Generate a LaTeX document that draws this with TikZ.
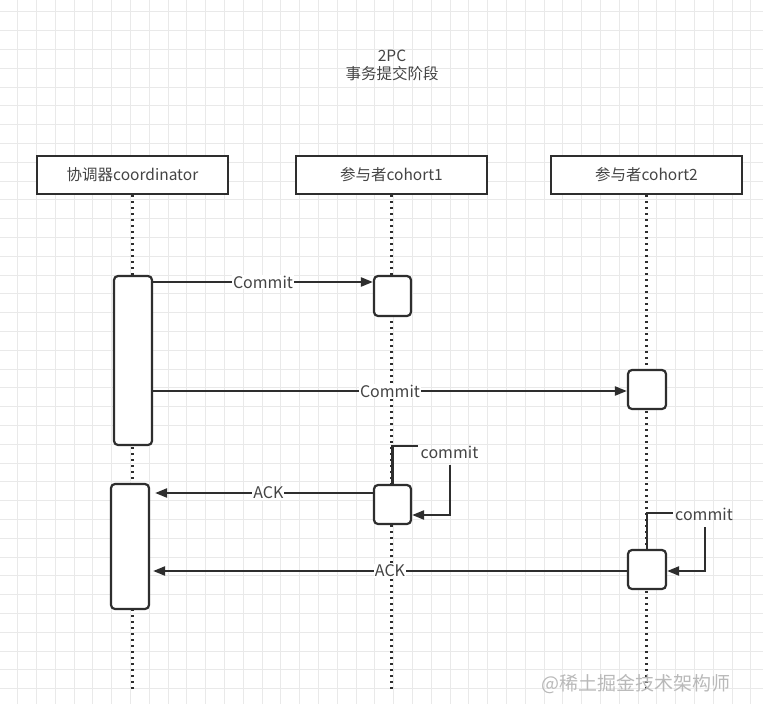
\documentclass[tikz,border=0pt]{standalone}
\usepackage{fontspec}
\setmainfont{Noto Sans CJK SC}
\usetikzlibrary{arrows.meta}
\definecolor{ink}{HTML}{2E2E2E}
\definecolor{txt}{HTML}{444444}
\definecolor{gridc}{HTML}{E9E9E9}
\tikzset{
  hdr/.style={draw=ink, line width=2.2pt, fill=white, minimum width=191pt, minimum height=38pt, inner sep=0pt, text=txt, font=\fontsize{15.5}{17}\selectfont},
  actbox/.style={draw=ink, line width=2.2pt, fill=white, rounded corners=4pt, minimum width=38pt, inner sep=0pt},
  life/.style={ink, line width=2.2pt, dash pattern=on 2pt off 4pt},
  msg/.style={draw=ink, line width=2.2pt, -{Triangle[length=12pt,width=9pt]}},
  lbl/.style={fill=white, inner sep=1pt, text=txt, font=\fontsize{16}{18}\selectfont},
  slbl/.style={inner sep=1pt, text=txt, font=\fontsize{16}{18}\selectfont},
}
\begin{document}
\begin{tikzpicture}[x=1pt,y=-1pt]
\useasboundingbox (0,0) rectangle (763,704);
\fill[white] (0,0) rectangle (763,704);
% grid
\foreach \i in {0,...,40} {
  \draw[gridc, line width=0.8pt] ({-1.3+18.8*\i},0) -- ({-1.3+18.8*\i},704);
}
\foreach \j in {0,...,38} {
  \draw[gridc, line width=0.8pt] (0,{-7.1+18.8*\j}) -- (763,{-7.1+18.8*\j});
}
% title
\node[text=txt, font=\fontsize{15.5}{18}\selectfont, align=center] (title) at (392,65) {2PC\\事务提交阶段};
% headers
\node[hdr] (h1) at (132.5,175) {协调器coordinator};
\node[hdr] (h2) at (391.5,175) {参与者cohort1};
\node[hdr] (h3) at (646.5,175) {参与者cohort2};
% lifeline ends
\coordinate (e1) at (132.5,690);
\coordinate (e2) at (391.5,690);
\coordinate (e3) at (646.5,690);
\draw[life] (h1.south) -- (e1);
\draw[life] (h2.south) -- (e2);
\draw[life] (h3.south) -- (e3);
% activation boxes
\node[actbox, minimum height=169pt] (a1) at (133,360.5) {};
\node[actbox, minimum height=125pt] (a2) at (130,546.5) {};
\node[actbox, minimum height=40pt, minimum width=37pt] (c1) at (392.5,296) {};
\node[actbox, minimum height=39pt] (d1) at (647,389.5) {};
\node[actbox, minimum height=39pt, minimum width=37pt] (c2) at (392.5,504.5) {};
\node[actbox, minimum height=39pt] (d2) at (647,569.5) {};
% messages
\draw[msg] (a1.east |- 0,282) -- node[lbl, pos=0.5] {Commit} (c1.west |- 0,282);
\draw[msg] (a1.east |- 0,391) -- node[lbl, pos=0.5] {Commit} (d1.west |- 0,391);
\draw[msg] (c2.west |- 0,493) -- node[lbl, pos=0.48] {ACK} ([xshift=5pt]a2.east |- 0,493);
\draw[msg] (d2.west |- 0,571) -- node[lbl, pos=0.5] {ACK} ([xshift=3pt]a2.east |- 0,571);
% self calls
\node[slbl] (s1) at (449.5,452) {commit};
\draw[ink, line width=2.2pt] (c2.north) -- (c2.north |- 0,446) -- (418,446);
\draw[msg] (450,465) -- (450,515) -- (c2.east |- 0,515);
\node[slbl] (s2) at (704,514) {commit};
\draw[ink, line width=2.2pt] (d2.north) -- (d2.north |- 0,513) -- (673,513);
\draw[msg] (705,527) -- (705,571) -- (d2.east |- 0,571);
% watermark
\node[text=gray!55, font=\fontsize{19}{21}\selectfont, anchor=west] (wm) at (538,684) {@稀土掘金技术架构师};
\end{tikzpicture}
\end{document}
